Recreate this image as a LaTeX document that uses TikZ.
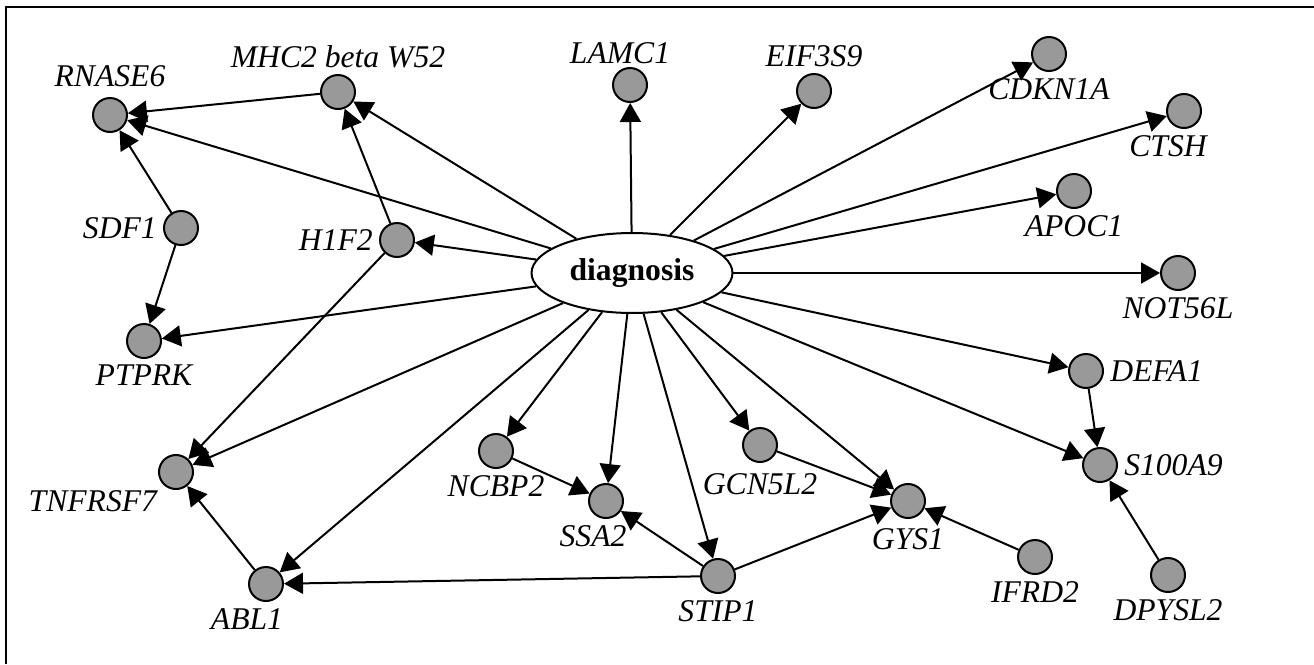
\documentclass[tikz,border=0pt]{standalone}
\usepackage{fontspec}
\setmainfont{Liberation Serif}
\usetikzlibrary{arrows.meta,shapes.geometric}
\definecolor{genegray}{RGB}{153,153,153}

\begin{document}
\begin{tikzpicture}[x=0.02cm, y=-0.02cm, line width=0.04cm,
    >={Triangle[length=0.38cm,width=0.42cm]},
    gene/.style={circle, draw, fill=genegray, minimum size=0.68cm, inner sep=0pt},
    lbl/.style={font=\fontsize{18}{20}\selectfont\itshape, inner sep=0.3em},
    target/.style={ellipse, draw, minimum width=4.02cm, minimum height=1.6cm, inner sep=0pt,
        font=\fontsize{18}{20}\selectfont\bfseries}]
        \useasboundingbox (0,0) rectangle (1314,664);
        \draw[line width=0.05cm] (6,664) -- (6,7) -- (1314,7);

        \node[target] (diag) at (632,273) {diagnosis};
        \node[gene, label={[lbl,yshift=0.08cm]above:RNASE6}] (rnase) at (110,115) {};
        \node[gene, label={[lbl]above:MHC2 beta W52}] (mhc) at (338,92) {};
        \node[gene, label={[lbl,xshift=-0.2cm,yshift=-0.06cm]above:LAMC1}] (lamc) at (630,85) {};
        \node[gene, label={[lbl]above:EIF3S9}] (eif) at (814,91) {};
        \node[gene, label={[lbl]below:CDKN1A}] (cdkn) at (1049,54) {};
        \node[gene, label={[lbl,xshift=-0.32cm]below:CTSH}] (ctsh) at (1184,111) {};
        \node[gene, label={[lbl]below:APOC1}] (apoc) at (1074,191) {};
        \node[gene, label={[lbl]below:NOT56L}] (not56) at (1178,273) {};
        \node[gene, label={[lbl]left:SDF1}] (sdf) at (181,228) {};
        \node[gene, label={[lbl]left:H1F2}] (hif) at (397,240) {};
        \node[gene, label={[lbl]below:PTPRK}] (ptprk) at (144,341) {};
        \node[gene, label={[lbl]below left:TNFRSF7}] (tnf) at (176,472) {};
        \node[gene, label={[lbl,xshift=-0.38cm]below:ABL1}] (abl) at (266,584) {};
        \node[gene, label={[lbl]below:NCBP2}] (ncbp) at (496,451) {};
        \node[gene, label={[lbl,xshift=-0.26cm]below:SSA2}] (ssa) at (606,501) {};
        \node[gene, label={[lbl]below:STIP1}] (stip) at (718,576) {};
        \node[gene, label={[lbl,yshift=-0.08cm]below:GCN5L2}] (gcn) at (760,445) {};
        \node[gene, label={[lbl,yshift=-0.06cm]below:GYS1}] (gys) at (908,501) {};
        \node[gene, label={[lbl]right:DEFA1}] (defa) at (1086,371) {};
        \node[gene, label={[lbl]right:S100A9}] (s100) at (1100,465) {};
        \node[gene, label={[lbl]below:IFRD2}] (ifrd) at (1035,557) {};
        \node[gene, label={[lbl]below:DPYSL2}] (dpysl) at (1168,575) {};

        \path[->]
        (diag) edge (rnase)
        (diag) edge (mhc)
        (diag) edge (hif)
        (diag) edge (ptprk)
        (diag) edge (tnf)
        (diag) edge (abl)
        (diag) edge (ncbp)
        (diag) edge (ssa)
        (diag) edge (stip)
        (diag) edge (gcn)
        (diag) edge (gys)
        (diag) edge (s100)
        (diag) edge (defa)
        (diag) edge (not56)
        (diag) edge (apoc)
        (diag) edge (ctsh)
        (diag) edge (cdkn)
        (diag) edge (eif)
        (diag) edge (lamc)
        (mhc) edge (rnase)
        (sdf) edge (rnase)
        (hif) edge (mhc)
        (sdf) edge (ptprk)
        (hif) edge (tnf)
        (abl) edge (tnf)
        (stip) edge (abl)
        (ncbp) edge (ssa)
        (stip) edge (ssa)
        (gcn) edge (gys)
        (stip) edge (gys)
        (ifrd) edge (gys)
        (defa) edge (s100)
        (dpysl) edge (s100)
        ;
    \end{tikzpicture}
\end{document}
